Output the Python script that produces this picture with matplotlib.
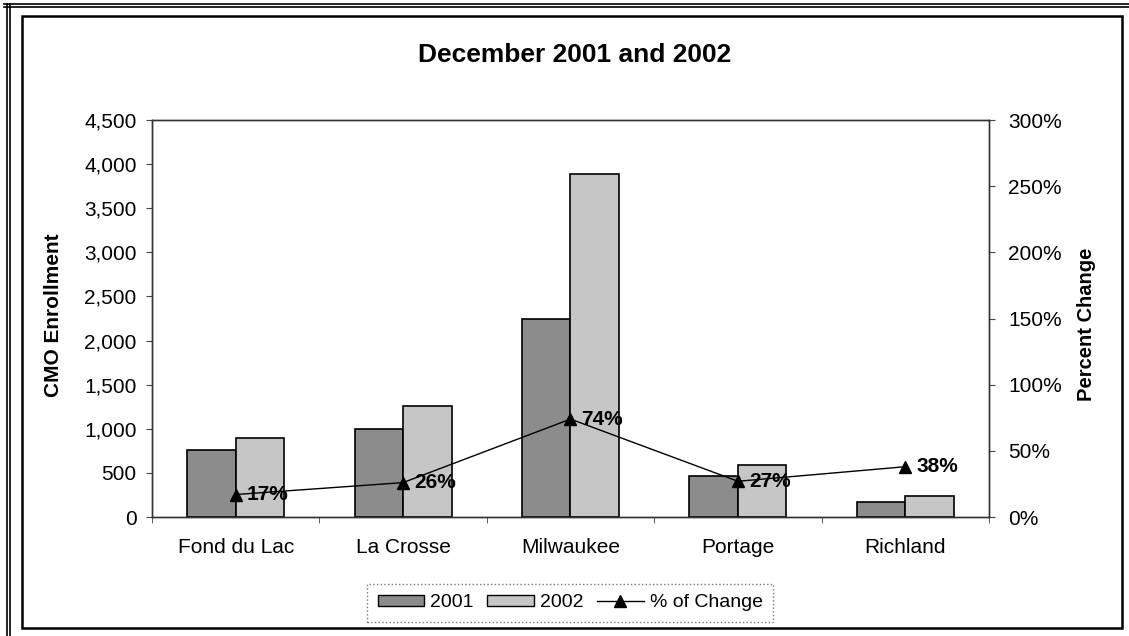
import matplotlib
matplotlib.use("Agg")
import matplotlib.pyplot as plt
import numpy as np
from matplotlib.lines import Line2D
from matplotlib.patches import Patch, Rectangle
from matplotlib.ticker import FuncFormatter, MultipleLocator, FixedLocator

plt.rcParams['font.family'] = ['Liberation Sans', 'DejaVu Sans']

# CMO enrollment by county, December 2001 vs 2002
counties = ['Fond du Lac', 'La Crosse', 'Milwaukee', 'Portage', 'Richland']
enroll_2001 = [760, 995, 2240, 465, 175]
enroll_2002 = [890, 1255, 3890, 590, 242]
pct_change = [17, 26, 74, 27, 38]

fig = plt.figure(figsize=(11.29, 6.36), dpi=100)
ax = fig.add_axes([0.1346, 0.1871, 0.7414, 0.6242])

x = np.arange(len(counties))
w = 0.29
ax.bar(x - w / 2, enroll_2001, w, color='#8c8c8c', edgecolor='black', linewidth=1.2)
ax.bar(x + w / 2, enroll_2002, w, color='#c6c6c6', edgecolor='black', linewidth=1.2)

ax.set_xlim(-0.5, len(counties) - 0.5)
ax.set_ylim(0, 4500)
ax.yaxis.set_major_locator(MultipleLocator(500))
ax.yaxis.set_major_formatter(FuncFormatter(lambda v, p: f'{int(v):,}'))
ax.set_xticks(x)
ax.set_xticklabels(counties)
ax.xaxis.set_minor_locator(FixedLocator(np.arange(-0.5, len(counties), 1.0)))
ax.tick_params(axis='x', which='major', length=0, pad=15, labelsize=15)
ax.tick_params(axis='x', which='minor', length=4, direction='out', color='#444444')
ax.tick_params(axis='y', length=4, pad=7, labelsize=15, color='#444444')

for s in ax.spines.values():
    s.set_color('#333333')
    s.set_linewidth(1.0)

# percent change on the secondary axis
ax2 = ax.twinx()
ax2.set_ylim(0, 300)
ax2.yaxis.set_major_locator(MultipleLocator(50))
ax2.yaxis.set_major_formatter(FuncFormatter(lambda v, p: f'{int(v)}%'))
ax2.tick_params(axis='y', length=4, pad=10, labelsize=15, color='#444444')
for s in ax2.spines.values():
    s.set_color('#333333')
    s.set_linewidth(1.0)

ax2.plot(x, pct_change, color='black', linewidth=1.0, marker='^', markersize=9)
for xi, p in zip(x, pct_change):
    ax2.annotate(f'{p}%', (xi, p), xytext=(8, 0), textcoords='offset points',
                 ha='left', va='center', fontsize=15, fontweight='bold')

fig.text(0.509, 0.9135, 'December 2001 and 2002', ha='center', va='center',
         fontsize=19, fontweight='bold')
fig.text(0.047, 0.505, 'CMO Enrollment', rotation=90, ha='center', va='center',
         fontsize=15, fontweight='bold')
fig.text(0.962, 0.49, 'Percent Change', rotation=90, ha='center', va='center',
         fontsize=14.5, fontweight='bold')

handles = [Patch(facecolor='#8c8c8c', edgecolor='black', label='2001'),
           Patch(facecolor='#c6c6c6', edgecolor='black', label='2002'),
           Line2D([], [], color='black', linewidth=1.0, marker='^', markersize=9,
                  label='% of Change')]
leg = fig.legend(handles=handles, loc='center', bbox_to_anchor=(0.505, 0.052), ncol=3,
                 fontsize=14, frameon=True, fancybox=False, handlelength=2.4,
                 handleheight=0.45, handletextpad=0.3, columnspacing=0.7,
                 borderpad=0.55)
leg.get_frame().set_edgecolor('#555555')
leg.get_frame().set_linestyle(':')
leg.get_frame().set_linewidth(1.0)

# page frame: inner chart border plus double line on top and left
W, H = 1129.0, 636.0
fig.add_artist(Rectangle((22 / W, 1 - 628 / H), 1100 / W, 612 / H, transform=fig.transFigure,
                         fill=False, edgecolor='black', linewidth=1.8))
for px in (7, 10):
    fig.add_artist(Line2D([px / W, px / W], [0, 1 - 4 / H], transform=fig.transFigure,
                          color='black', linewidth=1.2))
for py in (4, 7):
    fig.add_artist(Line2D([4 / W, 1], [1 - py / H, 1 - py / H], transform=fig.transFigure,
                          color='black', linewidth=1.2))

fig.savefig('out.png', dpi=100)
